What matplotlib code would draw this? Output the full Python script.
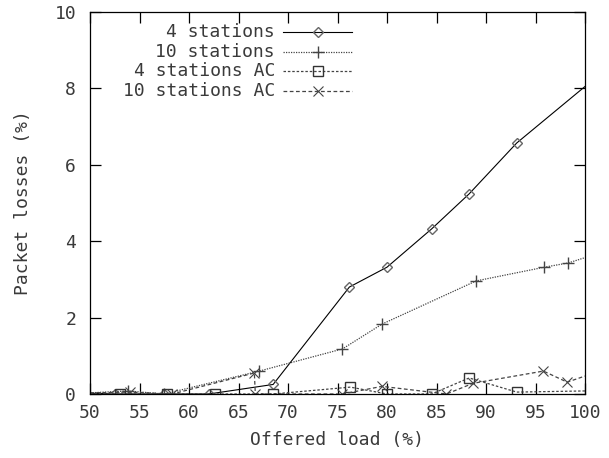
import matplotlib
matplotlib.use("Agg")
import matplotlib.pyplot as plt

# offered load (%) / packet losses (%)
load4 = [50, 52.5, 57.5, 62, 68.5, 76.2, 80, 84.5, 88.3, 93.1, 100]
loss4 = [0.02, 0, 0, 0, 0.25, 2.8, 3.32, 4.32, 5.24, 6.57, 8.05]

load10 = [50, 53.8, 57.5, 67.1, 75.5, 79.5, 89, 95.9, 98.3, 100]
loss10 = [0.03, 0.08, 0, 0.6, 1.18, 1.83, 2.96, 3.32, 3.43, 3.57]

load4ac = [50, 53, 57.8, 62.6, 68.5, 76.3, 80, 84.5, 88.3, 93.1, 100]
loss4ac = [0.02, 0, 0, 0, 0, 0.18, 0, 0, 0.42, 0.05, 0.08]

load10ac = [50, 54, 58.3, 66.6, 66.7, 75.5, 79.5, 86, 88.7, 95.8, 98.2, 100]
loss10ac = [0.03, 0.05, 0, 0.55, 0, 0, 0.2, 0, 0.28, 0.6, 0.31, 0.47]

xticks = list(range(50, 101, 5))
yticks = list(range(0, 11, 2))

plt.rcParams['font.family'] = ['DejaVu Sans Mono']
txt = '#3a3a3a'
fs = 13

fig = plt.figure(figsize=(6.09, 4.58), dpi=100)
ax = fig.add_axes([90/609, 64/458, 495/609, 382/458])

styles = [
    (load4, loss4, '4 stations', dict(ls='-', marker='D', ms=5.5, mfc='none', mec='#666666', mew=1.0, color='black', lw=0.8)),
    (load10, loss10, '10 stations', dict(ls=(0, (1, 1)), marker='+', ms=8, mew=1.0, color='#444444', lw=0.9)),
    (load4ac, loss4ac, '4 stations AC', dict(ls=(0, (2, 1.5)), marker='s', ms=6.5, mfc='none', mec='#333333', mew=1.0, color='#444444', lw=0.9)),
    (load10ac, loss10ac, '10 stations AC', dict(ls=(0, (3, 2)), marker='x', ms=7, mew=0.8, color='#444444', lw=0.9)),
]

for xs, ys, lab, st in styles:
    marks = [i for i in range(len(xs)) if 50 < xs[i] < 100]
    ax.plot(xs, ys, markevery=marks, clip_on=True, **st)

ax.set_xlim(50, 100)
ax.set_ylim(0, 10)
ax.set_xticks(xticks)
ax.set_yticks(yticks)
ax.tick_params(direction='in', length=8, width=0.9, top=True, right=True,
               labelsize=fs, colors='black', labelcolor=txt)
ax.tick_params(axis='y', pad=10)
ax.tick_params(axis='x', pad=7)
for s in ax.spines.values():
    s.set_linewidth(0.9)
ax.set_xlabel('Offered load (%)', fontsize=fs, color=txt, labelpad=7)
ax.set_ylabel('Packet losses (%)', fontsize=fs, color=txt, labelpad=16)

# gnuplot style key: right aligned text, sample line to the right
rows = [32, 52, 71, 91]
for (xs, ys, lab, st), py in zip(styles, rows):
    yf = 1 - (py - 12) / 382
    ax.text((275 - 90) / 495, yf, lab, transform=ax.transAxes, ha='right', va='center',
            fontsize=fs, color=txt)
    x0, x1 = (283 - 90) / 495, (352 - 90) / 495
    ax.plot([x0, (x0 + x1) / 2, x1], [yf, yf, yf], transform=ax.transAxes,
            markevery=[1], clip_on=False, **st)

fig.savefig('out.png', dpi=100)
